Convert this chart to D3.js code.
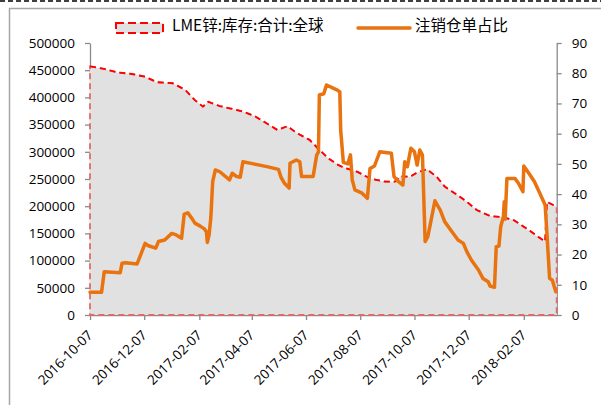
<!DOCTYPE html>
<html><head><meta charset="utf-8">
<script src="https://cdn.jsdelivr.net/npm/d3@7"></script>
<style>body{margin:0;background:#fff} svg{display:block}</style>
</head><body><svg id="c" width="601" height="405"></svg>
<script>
const seriesNames = ["LME锌:库存:合计:全球", "注销仓单占比"];
const stockDates = ["2016-10-07","2016-10-24","2016-11-07","2016-11-23","2016-12-08","2016-12-21","2017-01-08","2017-01-22","2017-02-02","2017-02-11","2017-02-17","2017-03-02","2017-03-13","2017-03-28","2017-04-11","2017-04-24","2017-05-06","2017-05-17","2017-05-28","2017-06-11","2017-06-20","2017-07-02","2017-07-13","2017-07-21","2017-08-04","2017-08-18","2017-09-04","2017-09-15","2017-09-21","2017-10-02","2017-10-10","2017-10-21","2017-11-01","2017-11-10","2017-11-24","2017-12-05","2017-12-16","2017-12-31","2018-01-13","2018-01-26","2018-02-10","2018-02-23","2018-03-03","2018-03-05","2018-03-16"];
const stockValues = [457000,452000,446000,443000,438000,428000,426000,414000,395000,383000,392000,384000,380000,374000,365000,352000,340000,347000,334000,322000,307000,288000,276000,270000,263000,251000,245000,245000,255000,254000,262000,268000,254000,236000,221000,208000,193000,182000,180000,175000,159000,144000,135000,208000,199000];
const ratioDates = ["2016-10-07","2016-10-20","2016-10-23","2016-11-10","2016-11-12","2016-11-16","2016-11-29","2016-12-08","2016-12-11","2016-12-20","2016-12-23","2016-12-30","2017-01-07","2017-01-12","2017-01-18","2017-01-21","2017-01-25","2017-01-30","2017-02-02","2017-02-08","2017-02-13","2017-02-15","2017-02-16","2017-02-18","2017-02-20","2017-02-22","2017-02-25","2017-03-02","2017-03-13","2017-03-16","2017-03-21","2017-03-25","2017-03-28","2017-04-09","2017-04-24","2017-05-07","2017-05-10","2017-05-14","2017-05-19","2017-05-20","2017-05-27","2017-05-31","2017-06-02","2017-06-15","2017-06-19","2017-06-21","2017-06-22","2017-06-27","2017-06-30","2017-07-11","2017-07-15","2017-07-16","2017-07-19","2017-07-24","2017-07-27","2017-07-29","2017-08-01","2017-08-09","2017-08-15","2017-08-18","2017-08-23","2017-08-29","2017-09-11","2017-09-14","2017-09-19","2017-09-24","2017-09-26","2017-09-29","2017-10-03","2017-10-07","2017-10-10","2017-10-13","2017-10-16","2017-10-19","2017-10-22","2017-10-25","2017-10-30","2017-11-05","2017-11-10","2017-11-18","2017-11-25","2017-12-01","2017-12-05","2017-12-10","2017-12-18","2017-12-23","2017-12-29","2017-12-31","2018-01-05","2018-01-07","2018-01-10","2018-01-12","2018-01-15","2018-01-16","2018-01-17","2018-01-19","2018-01-28","2018-02-01","2018-02-06","2018-02-07","2018-02-14","2018-02-19","2018-02-25","2018-03-03","2018-03-05","2018-03-08","2018-03-11","2018-03-15"];
const ratioValues = [7.5,7.5,14.3,14.0,17.1,17.3,16.9,23.7,23.0,22.1,24.3,24.8,27.0,26.5,25.4,33.4,33.8,31.8,30.4,29.4,28.4,27.5,24.0,26.5,32.5,44.1,48.0,47.4,44.7,46.9,45.8,45.6,50.7,50.0,49.1,48.2,45.5,43.5,42.0,50.2,51.3,50.7,45.8,45.8,52.9,54.0,72.8,73.2,76.1,74.6,73.9,61.2,50.5,50.0,53.0,44.7,41.4,40.3,38.6,48.5,49.3,54.0,53.5,45.8,44.1,43.0,50.7,49.1,55.2,54.0,49.6,54.6,52.9,24.3,25.9,30.3,37.8,34.7,30.9,27.6,24.8,23.7,20.9,18.2,14.9,12.1,11.0,9.6,9.2,22.6,22.8,29.2,32.5,37.5,31.7,45.2,45.2,43.6,40.8,49.3,46.3,44.1,40.3,36.4,27.0,12.1,11.6,7.7];
const leftTicks = [0,50000,100000,150000,200000,250000,300000,350000,400000,450000,500000];
const rightTicks = [0,10,20,30,40,50,60,70,80,90];
const xTickLabels = ["2016-10-07","2016-12-07","2017-02-07","2017-04-07","2017-06-07","2017-08-07","2017-10-07","2017-12-07","2018-02-07"];
const xDomain = ["2016-10-07","2018-03-16"];

const parse = d3.utcParse("%Y-%m-%d");
const fmt = d3.utcFormat("%Y-%m-%d");
const svg = d3.select("#c");
const L = 90, R = 556.7, T = 43, B = 315;
const tickFont = "'Open Sans', sans-serif";
const axisColor = "#8a8a8a";

const x = d3.scaleUtc().domain(xDomain.map(parse)).range([L, R]);
const yL = d3.scaleLinear().domain([0, 500000]).range([B, T]);
const yR = d3.scaleLinear().domain([0, 90]).range([B, T]);

const stock = stockDates.map((d, i) => ({d: parse(d), v: stockValues[i]}));
const ratio = ratioDates.map((d, i) => ({d: parse(d), v: ratioValues[i]}));

// outer frame
svg.append("line").attr("x1", 0).attr("x2", 601).attr("y1", 1).attr("y2", 1)
  .attr("stroke", "#000").attr("stroke-width", 1.5).attr("stroke-dasharray", "5,3");
svg.append("path").attr("d", "M9.5,410 L9.5,8.5 L610,8.5")
  .attr("fill", "none").attr("stroke", "#a6a6a6").attr("stroke-width", 1.5);

function styleAxis(g) {
  g.select(".domain").attr("stroke", axisColor).attr("stroke-width", 1.3);
  g.selectAll(".tick line").attr("stroke", axisColor).attr("stroke-width", 1.3);
  g.selectAll(".tick text").attr("fill", "#000").style("font-family", tickFont).style("font-size", "13.5px");
}

const gL = svg.append("g").attr("transform", `translate(${L},0)`)
  .call(d3.axisLeft(yL).tickValues(leftTicks).tickSize(5).tickSizeOuter(0).tickPadding(10).tickFormat(d3.format("d")));
styleAxis(gL);
const gR = svg.append("g").attr("transform", `translate(${R},0)`)
  .call(d3.axisRight(yR).tickValues(rightTicks).tickSize(5).tickSizeOuter(0).tickPadding(10).tickFormat(d3.format("d")));
styleAxis(gR);
const gB = svg.append("g").attr("transform", `translate(0,${B})`)
  .call(d3.axisBottom(x).tickValues(xTickLabels.map(parse)).tickSize(5).tickSizeOuter(0).tickFormat(fmt));
styleAxis(gB);
gB.selectAll(".tick text").attr("text-anchor", "end").attr("x", 0).attr("y", 0).attr("dy", 0)
  .attr("transform", "translate(3,21) rotate(-45)");

// area
const area = d3.area().x(d => x(d.d)).y0(B).y1(d => yL(d.v));
svg.append("path").datum(stock).attr("d", area)
  .attr("fill", "#e1e1e1").attr("stroke", "#e06a6a").attr("stroke-width", 1.8).attr("stroke-dasharray", "6,4");
const topLine = d3.line().x(d => x(d.d)).y(d => yL(d.v));
svg.append("path").datum(stock).attr("d", topLine)
  .attr("fill", "none").attr("stroke", "#ff0000").attr("stroke-width", 1.8).attr("stroke-dasharray", "6,4");

// ratio line
const line = d3.line().x(d => x(d.d)).y(d => yR(d.v));
svg.append("path").datum(ratio).attr("d", line)
  .attr("fill", "none").attr("stroke", "#E8730F").attr("stroke-width", 3.5)
  .attr("stroke-linejoin", "round").attr("stroke-linecap", "round");

// legend
const lf = "'Noto Sans CJK SC', sans-serif";
svg.append("rect").attr("x", 116).attr("y", 23).attr("width", 47).attr("height", 10)
  .attr("fill", "#e1e1e1").attr("stroke", "#ff0000").attr("stroke-width", 2).attr("stroke-dasharray", "8,4");
svg.append("text").attr("x", 172).attr("y", 31).text(seriesNames[0])
  .style("font-family", lf).style("font-size", "15.5px").attr("fill", "#000");
svg.append("line").attr("x1", 358).attr("x2", 410).attr("y1", 28).attr("y2", 28)
  .attr("stroke", "#E8730F").attr("stroke-width", 3.5).attr("stroke-linecap", "round");
svg.append("text").attr("x", 415).attr("y", 31).text(seriesNames[1])
  .style("font-family", lf).style("font-size", "15.5px").attr("fill", "#000");
</script></body></html>
